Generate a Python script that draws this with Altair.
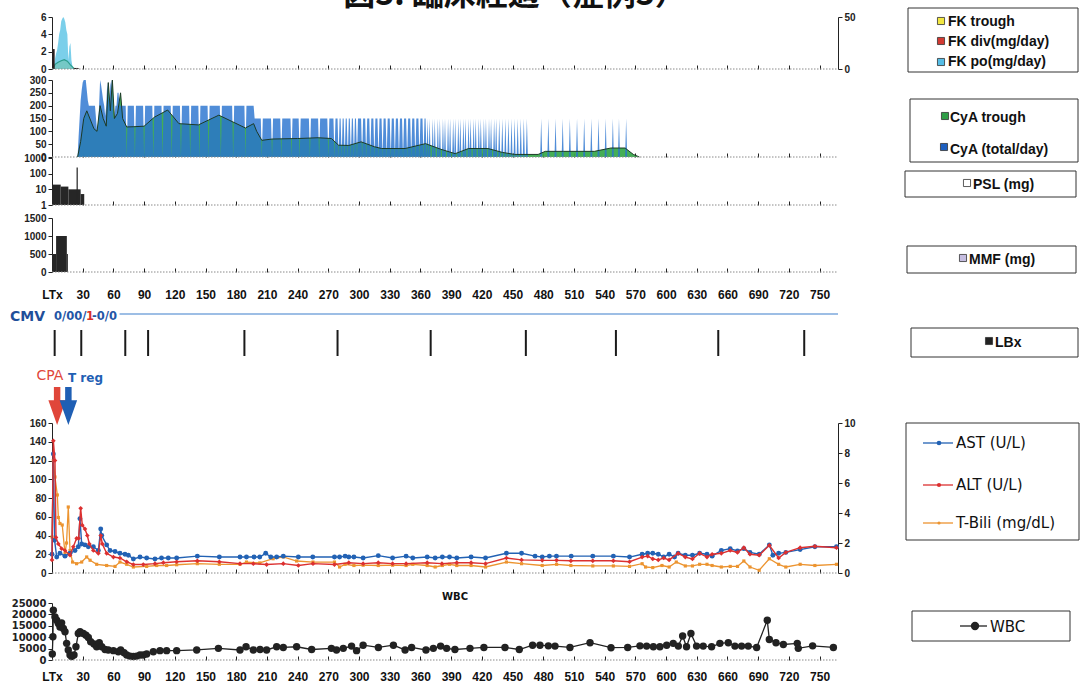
import altair as alt
import pandas as pd

W, H = 786, 690
XMAX = 768
X_TICKS = list(range(0, 751, 30))

# ---------------- data ----------------
# FK (tacrolimus)
fk_po_days = [1, 2, 3, 4, 5, 6, 7, 8, 9, 10, 11, 12, 13, 14, 15, 16, 17, 18, 19, 20, 21]
fk_po_vals = [0, 0.5, 1.2, 1.8, 2.2, 3.0, 4.0, 4.5, 5.5, 5.8, 6.0, 5.8, 5.4, 4.5, 4.0, 1.0, 2.6, 3.0, 1.0, 0.3, 0]
fk_trough_days = [1, 3, 6, 9, 12, 15, 18, 20, 22]
fk_trough_vals = [0, 4.5, 6.5, 8.0, 9.0, 7.5, 4.0, 2.0, 0]
fk_div_start = [0.8, 21]
fk_div_end = [2.6, 26]
fk_div_vals = [2.3, 0.12]

# CyA dose (mg/day)
cya_early_days = list(range(24, 70))
cya_early_vals = [0, 0, 80, 150, 220, 260, 290, 300, 300, 300,
                  260, 220, 200, 200, 200, 200, 200, 200, 200, 150,
                  100, 120, 200, 300, 280, 250, 220, 200, 160, 200,
                  290, 250, 200, 280, 300, 250, 150, 160, 200, 200,
                  250, 250, 200, 200, 200, 200]
cya_seg_start = [70, 198]
cya_seg_end = [197, 299]
cya_seg_dose = [200, 150]
cya_gap_days = [73, 81, 90, 99, 108, 117, 126, 135, 144, 153, 165, 177, 189,
                205, 215, 224, 234, 242, 252, 261, 270, 276, 280, 283, 286, 289, 292, 295, 298]
cya_late_days = [300, 301, 302, 304, 305, 306, 308, 309, 310, 312, 313, 314, 316, 317, 318, 320, 321,
                 322, 324, 325, 326, 328, 329, 330, 332, 333, 334, 336, 337, 338, 340, 341, 342, 344,
                 345, 346, 348, 349, 350, 352, 353, 354, 356, 357, 358, 360, 361, 362, 364, 365,
                 367, 369, 372, 374, 377, 379, 382, 384, 387, 389, 392, 394, 397, 399, 402, 404, 407,
                 409, 412, 414, 417, 419, 422, 424, 427, 429, 432, 434, 437, 440, 443, 446, 449, 452,
                 455, 458, 461, 464,
                 478, 485, 492, 499, 506, 513, 520, 527, 534, 541, 548, 554, 561]
cya_late_dose = 150
# CyA trough
cya_tr_days = [25, 28, 31, 34, 38, 41, 44, 47, 50, 53, 55, 57, 59, 61, 64, 67, 69, 73, 80, 90,
               100, 113, 124, 143, 163, 189, 197, 200, 205, 215, 240, 260, 273, 280, 290, 302,
               315, 322, 345, 365, 380, 394, 407, 426, 440, 452, 475, 482, 500, 530, 546, 560, 568, 574]
cya_tr_vals = [0, 60, 150, 180, 140, 110, 100, 200, 150, 120, 290, 180, 300, 150, 170, 250, 150, 117, 118, 120,
               155, 183, 130, 125, 163, 113, 130, 100, 65, 70, 72, 75, 72, 46, 45, 59,
               40, 33, 33, 52, 30, 13, 33, 33, 18, 10, 10, 22, 22, 22, 35, 35, 10, 0]

# PSL (mg), log axis
psl_start = [0, 8.5, 16, 28, 24]
psl_end = [8.5, 16, 28, 31.5, 25.2]
psl_vals = [20, 15, 10, 5, 250]

# MMF (mg)
mmf_start = [0, 4, 14.5]
mmf_end = [4, 14.5, 15.5]
mmf_vals = [500, 1000, 500]

# liver biopsy days
lbx_days = [2.6, 28.6, 71.6, 93.9, 188, 279, 370, 463, 551, 651, 735]
# arrows
cpa_day = 5
treg_day = 16

# AST / ALT (U/L), T-Bili (mg/dL)
ast_days = [0, 1.3, 2.5, 4.6, 7.8, 12.7, 17.6, 22.5, 25.7, 27.3, 29, 32.2, 35.5, 40.4, 45.3, 47.6, 48.6,
            53.4, 56.7, 61.6, 66.4, 71.3, 74.6, 79.5, 86, 92.5, 100.6, 107, 113.6, 121.8, 142, 163.5,
            183.7, 190, 197.4, 203, 208.8, 213.7, 219.5, 226, 240.7, 254.8, 276, 281, 286.4, 290, 295,
            304, 318.8, 332.8, 346, 352.5, 366.6, 374.4, 381.4, 388.4, 395.5, 409.5, 423.6, 444, 458.8,
            472, 479, 486, 492.9, 507.3, 528.4, 548.5, 564.3, 576.6, 582, 587, 592.4, 597.7, 603, 608.3,
            611.8, 618.8, 625.8, 632.8, 640, 645, 654, 662.7, 669.8, 676, 682, 691, 700.9, 704.4, 710,
            717, 731, 745.4, 766.5]
ast_vals = [20, 127, 35, 17, 21, 18, 21, 24, 28, 58, 31, 30, 28, 28, 24, 47, 40,
            30, 24, 23, 21, 20, 19, 15, 17, 16, 15, 16, 16, 16, 18, 17,
            17, 17, 17, 17, 21, 17, 17, 18, 17, 17, 17, 17, 18, 17, 17,
            16, 18.5, 16, 18, 16, 17, 16, 17, 17, 16, 17, 16, 21, 21,
            18, 17, 18, 18, 18, 18, 18, 17, 20, 21, 21, 20, 17, 20, 17,
            21, 19, 19, 21, 20, 18, 24, 26, 23.5, 26, 22, 20, 30, 19, 21,
            22, 25, 28, 28]
alt_days = [0, 1.3, 2.9, 3.9, 6.2, 9.4, 12.7, 17.6, 20.8, 24.1, 26, 28, 29.6, 32.2, 34.5, 36.5, 40.4,
            45.3, 47.6, 49.2, 53.4, 60, 66.4, 73, 79.5, 89.2, 100.6, 108.8, 121.8, 142, 163.5, 183.7,
            196.7, 209.7, 226, 240.7, 255, 276, 290, 304, 318.8, 332.8, 346, 366.6, 381, 395.5, 409.5,
            423.6, 444, 458.8, 479, 493, 507, 528.4, 548.5, 564.3, 576.6, 582, 587, 592.4, 597.7, 603,
            611.8, 618.8, 625.8, 632.8, 640, 645, 654, 662.7, 669.8, 676, 682, 691, 700.9, 710, 717,
            731, 745.4, 766.5]
alt_vals = [14, 141, 120, 38, 31, 26, 24, 19, 28, 37, 37, 69, 51, 47, 40, 31, 24,
            21, 40, 31, 21, 17, 16, 12, 9, 9, 10, 11, 12, 13, 12, 10,
            10, 9, 10, 8, 10, 9, 11, 10, 11, 10, 10, 11, 10, 11, 11,
            10, 16, 14, 13.5, 13.5, 13, 13, 13, 12, 17, 18, 15, 14, 16, 14,
            21, 17, 15, 21, 17, 20, 21, 24, 22, 27, 20, 19, 29.5, 16, 22,
            27, 28.5, 27]
bili_days = [0, 1.3, 2.9, 5.2, 6.2, 7.8, 10, 12.7, 14.2, 15.9, 17.6, 20.1, 24, 29, 33.9, 37.2, 43.7,
             53.4, 61.6, 66.4, 73, 79.5, 92.5, 102.3, 112, 121.8, 142, 163.5, 183.7, 190, 203, 216,
             226, 239, 255, 276, 281, 286.4, 295, 304, 318.8, 332.8, 346, 352.5, 366.6, 374.4, 381.4,
             388.4, 395.5, 409.5, 423.6, 444, 458.8, 479, 493, 507, 528.4, 548.5, 564.3, 576.6, 580,
             587, 596, 603, 610, 618.8, 625.8, 632.8, 640, 645, 654, 662.7, 669.8, 676, 682, 691,
             700.9, 710, 717, 731, 745.4, 766.5]
bili_vals = [2.4, 7.5, 6.4, 5.2, 3.7, 3.3, 3.2, 1.3, 2.0, 4.4, 1.5, 0.73, 0.62, 0.73, 1.07, 0.85, 0.58,
             0.5, 0.44, 0.73, 0.58, 0.4, 0.44, 0.5, 0.5, 0.55, 0.62, 0.58, 0.58, 0.73, 0.67, 0.95,
             1.07, 0.8, 0.73, 0.73, 0.4, 0.58, 0.5, 0.52, 0.5, 0.52, 0.5, 0.58, 0.5, 0.4, 0.5,
             0.58, 0.5, 0.5, 0.4, 0.73, 0.62, 0.5, 0.58, 0.5, 0.47, 0.47, 0.44, 0.62, 0.4,
             0.36, 0.5, 0.4, 0.73, 0.47, 0.47, 0.58, 0.58, 0.5, 0.4, 0.44, 0.44, 0.8, 0.4, 0.18,
             0.95, 0.58, 0.4, 0.58, 0.5, 0.58]

# WBC (/uL)
wbc_days = [0.3, 0.9, 1.3, 2.9, 4.6, 6.2, 7.8, 9.4, 11.1, 12.7, 14.3, 15.9, 17.6, 19.2, 21.5, 23.4,
            25.7, 27.4, 30.6, 33.2, 35.5, 37.8, 41, 43.6, 46.2, 48.6, 51.8, 55, 60, 64.8, 67.1, 70.4,
            73, 76.2, 79.5, 82.7, 86, 89.2, 92.5, 99, 105.5, 112, 121.8, 141.4, 162.6, 183.7, 189.6,
            196.7, 203.3, 209.7, 219.5, 226, 239, 253.7, 273, 278, 284.6, 292.7, 297.6, 304, 318.9,
            333.6, 345, 351.4, 365.4, 372.6, 379.7, 385.6, 393.7, 408.4, 422, 442.6, 456.6, 469.6,
            476.8, 485, 491.5, 506.1, 525.7, 546.2, 562.5, 574.5, 581, 587.6, 594, 600.6, 607, 612,
            616.2, 620, 624.3, 629.8, 636.3, 644.5, 652.6, 660.8, 667.3, 673.8, 680.3, 688.5, 698.9,
            700.9, 707.4, 714.6, 728.2, 729.2, 743.2, 763.5]
wbc_vals = [2600, 10200, 21800, 18900, 17400, 16000, 14500, 16300, 13800, 12400, 7300, 4400, 2200, 1500,
            2200, 5800, 11600, 12400, 11600, 10900, 9900, 8000, 7000, 5800, 7600, 5800, 4600, 4400, 4100,
            3600, 4400, 3200, 2200, 1700, 1500, 1700, 2200, 2200, 2600, 3600, 4100, 4100, 4100, 4400,
            5100, 4400, 5800, 4400, 4600, 4400, 5800, 5500, 5800, 4600, 5100, 4400, 5100, 6100, 4100,
            6500, 5500, 6500, 4400, 5500, 4400, 5100, 6100, 5100, 4600, 5100, 5500, 5500, 4600, 6500,
            6500, 6200, 6100, 5500, 7600, 5400, 5500, 6200, 6100, 5800, 5800, 6500, 7300, 6100, 10500,
            5800, 11600, 6100, 6100, 5800, 7300, 7600, 6100, 6100, 6100, 5500, 17400, 9000, 7600, 6800,
            7300, 5100, 6200, 5500]

# ---------------- helpers ----------------
one = pd.DataFrame({'a': [0]})

PANELS = {
    'fk': ([0, 6], [69, 17], 'linear'),
    'fkr': ([0, 50], [69, 17], 'linear'),
    'cya': ([0, 300], [157, 80], 'linear'),
    'psl': ([1, 1000], [205, 158], 'log'),
    'mmf': ([0, 1500], [272, 218], 'linear'),
    'ast': ([0, 160], [573, 423], 'linear'),
    'bili': ([0, 10], [573, 423], 'linear'),
    'wbc': ([0, 25000], [660, 603], 'linear'),
}

LABEL_FONT = 'Liberation Sans'


def xsc():
    return alt.Scale(domain=[0, XMAX], nice=False, zero=False)


def X(f):
    return alt.X(f, type='quantitative', scale=xsc(), axis=None)


def ysc(key):
    dom, rng, typ = PANELS[key]
    if typ == 'log':
        return alt.Scale(type='log', domain=dom, range=rng, nice=False)
    return alt.Scale(domain=dom, range=rng, nice=False, zero=False)


def Y(f, key, axis=None):
    return alt.Y(f, type='quantitative', scale=ysc(key), axis=axis)


def yaxis(values, orient='left', size=10, font=LABEL_FONT):
    return alt.Axis(orient=orient, values=values, format='d', domainColor='#222', domainWidth=1,
                    tickColor='#222', tickSize=4, tickWidth=1, labelFont=font, labelFontSize=size,
                    labelFontWeight='bold', labelColor='#222', labelPadding=2, labelFlush=False,
                    labelOverlap=False, labelBound=False, grid=False, title=None)


def xtick(bottom, labels=False, pad=0):
    return alt.Axis(orient='bottom', offset=bottom - 4 - H, values=X_TICKS, domain=False,
                    tickSize=4, tickColor='#222', tickWidth=1, labels=labels, labelPadding=pad,
                    labelFont=LABEL_FONT, labelFontSize=12, labelFontWeight='bold', labelColor='#111',
                    labelExpr="datum.value == 0 ? 'LTx' : datum.label", labelFlush=False,
                    labelOverlap=False, labelBound=False, grid=False, title=None)


def base(key, yval, ya, xa):
    return alt.Chart(one).mark_rule(color='#8a8a8a', strokeDash=[1.5, 1.5], strokeWidth=1).encode(
        x=alt.XDatum(0, type='quantitative', scale=xsc(), axis=xa),
        x2=alt.X2Datum(XMAX),
        y=alt.YDatum(yval, type='quantitative', scale=ysc(key), axis=ya))


def px(v):
    return alt.value(v)


L = []

# ---------------- FK panel ----------------
fk_tr_df = pd.DataFrame({'d': fk_trough_days, 'v': fk_trough_vals})
fk_po_df = pd.DataFrame({'d': fk_po_days, 'v': fk_po_vals})
fk_div_df = pd.DataFrame({'s': fk_div_start, 'e': fk_div_end, 'v': fk_div_vals})
L.append(alt.Chart(fk_tr_df).mark_area(color='#e2d94a', opacity=0.9).encode(
    x=X('d'), y=Y('v', 'fkr', yaxis([0, 50], orient='right')), y2=alt.Y2Datum(0)))
L.append(alt.Chart(fk_po_df).mark_area(color='#56c1e4', opacity=0.78).encode(
    x=X('d'), y=Y('v', 'fk'), y2=alt.Y2Datum(0)))
L.append(alt.Chart(fk_tr_df).mark_line(color='#2b9c8c', strokeWidth=1.2).encode(
    x=X('d'), y=Y('v', 'fkr')))
L.append(alt.Chart(fk_div_df).mark_rect(color='#2a1f1f').encode(
    x=X('s'), x2='e', y=Y('v', 'fk'), y2=alt.Y2Datum(0)))
L.append(base('fk', 0, yaxis([0, 2, 4, 6]), xtick(69)))

# ---------------- CyA panel ----------------
dose = {}
for d, v in zip(cya_early_days, cya_early_vals):
    dose[d] = v
for s, e, v in zip(cya_seg_start, cya_seg_end, cya_seg_dose):
    for d in range(s, e + 1):
        dose[d] = v
for d in cya_gap_days:
    dose[d] = 0
for d in range(300, 572):
    dose[d] = 0
for d in cya_late_days:
    dose[d] = cya_late_dose
dose_df = pd.DataFrame({'d': sorted(dose), 'v': [dose[k] for k in sorted(dose)]})
cya_tr_df = pd.DataFrame({'d': cya_tr_days, 'v': cya_tr_vals})
L.append(alt.Chart(cya_tr_df).mark_area(color='#3aaa4c', opacity=0.95).encode(
    x=X('d'), y=Y('v', 'cya'), y2=alt.Y2Datum(0)))
L.append(alt.Chart(dose_df).mark_area(color='#2a74d0', opacity=0.82, interpolate='linear').encode(
    x=X('d'), y=Y('v', 'cya'), y2=alt.Y2Datum(0)))
L.append(alt.Chart(cya_tr_df).mark_line(color='#1b3a26', strokeWidth=1).encode(
    x=X('d'), y=Y('v', 'cya')))
L.append(base('cya', 0, yaxis([0, 50, 100, 150, 200, 250, 300]), xtick(157)))

# ---------------- PSL panel ----------------
psl_df = pd.DataFrame({'s': psl_start, 'e': psl_end, 'v': psl_vals})
L.append(alt.Chart(psl_df).mark_rect(color='#262626').encode(
    x=X('s'), x2='e', y=Y('v', 'psl'), y2=alt.Y2Datum(1)))
L.append(base('psl', 1, yaxis([1, 10, 100, 1000]), xtick(205)))

# ---------------- MMF panel ----------------
mmf_df = pd.DataFrame({'s': mmf_start, 'e': mmf_end, 'v': mmf_vals})
L.append(alt.Chart(mmf_df).mark_rect(color='#262626').encode(
    x=X('s'), x2='e', y=Y('v', 'mmf'), y2=alt.Y2Datum(0)))
L.append(base('mmf', 0, yaxis([0, 500, 1000, 1500]), xtick(272, labels=True, pad=17)))

# ---------------- CMV / LBx / arrows ----------------
L.append(alt.Chart(one).mark_rule(color='#3d7fcc', strokeWidth=1.2).encode(
    x=alt.XDatum(66, type='quantitative', scale=xsc(), axis=None),
    x2=alt.X2Datum(XMAX), y=px(314)))
L.append(alt.Chart(one).mark_text(text='CMV', font='DejaVu Sans', fontSize=14, fontWeight='bold',
                                  color='#1f4f9a', align='left', baseline='middle').encode(
    x=px(-42), y=px(317)))
L.append(alt.Chart(one).mark_text(text='0/00/', font='DejaVu Sans', fontSize=11.5, fontWeight='bold',
                                  color='#2456a6', align='left', baseline='middle').encode(
    x=px(2), y=px(317)))
L.append(alt.Chart(one).mark_text(text='1', font='DejaVu Sans', fontSize=11.5, fontWeight='bold',
                                  color='#d8302a', align='left', baseline='middle').encode(
    x=px(34), y=px(317)))
L.append(alt.Chart(one).mark_text(text='-0/0', font='DejaVu Sans', fontSize=11.5, fontWeight='bold',
                                  color='#2456a6', align='left', baseline='middle').encode(
    x=px(40), y=px(317)))
lbx_df = pd.DataFrame({'d': lbx_days})
L.append(alt.Chart(lbx_df).mark_rule(color='#1a1a1a', strokeWidth=2).encode(
    x=X('d'), y=px(330), y2=px(356)))

ARROW = 'M-0.17,-1L0.17,-1L0.17,-0.3L0.46,-0.3L0,1L-0.46,-0.3L-0.17,-0.3Z'
L.append(alt.Chart(pd.DataFrame({'d': [cpa_day]})).mark_point(
    shape=ARROW, filled=True, size=1444, color='#e0463a', opacity=1).encode(x=X('d'), y=px(406)))
L.append(alt.Chart(pd.DataFrame({'d': [treg_day]})).mark_point(
    shape=ARROW, filled=True, size=1444, color='#1f5fb4', opacity=1).encode(x=X('d'), y=px(406)))
L.append(alt.Chart(one).mark_text(text='CPA', font='DejaVu Sans', fontSize=14, color='#e0463a',
                                  align='center', baseline='middle').encode(x=px(-2), y=px(376)))
L.append(alt.Chart(one).mark_text(text='T reg', font='DejaVu Sans', fontSize=12, fontWeight='bold',
                                  color='#1f5fb4', align='left', baseline='middle').encode(x=px(16), y=px(378)))

# ---------------- AST / ALT / T-Bili ----------------
ast_df = pd.DataFrame({'d': ast_days, 'v': ast_vals})
alt_df = pd.DataFrame({'d': alt_days, 'v': alt_vals})
bili_df = pd.DataFrame({'d': bili_days, 'v': bili_vals})
L.append(alt.Chart(bili_df).mark_line(color='#ec9430', strokeWidth=1.3).encode(
    x=X('d'), y=Y('v', 'bili', yaxis([0, 2, 4, 6, 8, 10], orient='right'))))
L.append(alt.Chart(bili_df).mark_point(color='#ec9430', filled=True, shape='square', size=10, opacity=1).encode(
    x=X('d'), y=Y('v', 'bili')))
L.append(alt.Chart(ast_df).mark_line(color='#2262b4', strokeWidth=1.4).encode(x=X('d'), y=Y('v', 'ast')))
L.append(alt.Chart(ast_df).mark_point(color='#2262b4', filled=True, shape='circle', size=24, opacity=1).encode(
    x=X('d'), y=Y('v', 'ast')))
L.append(alt.Chart(alt_df).mark_line(color='#dc3030', strokeWidth=1.4).encode(x=X('d'), y=Y('v', 'ast')))
L.append(alt.Chart(alt_df).mark_point(color='#dc3030', filled=True, shape='diamond', size=22, opacity=1).encode(
    x=X('d'), y=Y('v', 'ast')))
L.append(base('ast', 0, yaxis([0, 20, 40, 60, 80, 100, 120, 140, 160]), xtick(573)))

# ---------------- WBC ----------------
wbc_df = pd.DataFrame({'d': wbc_days, 'v': wbc_vals})
L.append(alt.Chart(wbc_df).mark_line(color='#222', strokeWidth=1.3).encode(x=X('d'), y=Y('v', 'wbc')))
L.append(alt.Chart(wbc_df).mark_point(color='#222', filled=True, shape='circle', size=55, opacity=1).encode(
    x=X('d'), y=Y('v', 'wbc')))
L.append(base('wbc', 0, yaxis([0, 5000, 10000, 15000, 20000, 25000], size=10, font='DejaVu Sans'),
              xtick(660, labels=True, pad=11)))
L.append(alt.Chart(one).mark_text(text='WBC', font='DejaVu Sans', fontSize=10, fontWeight='bold',
                                  color='#111', align='center', baseline='middle').encode(x=px(403), y=px(597)))

# ---------------- title (cut by the top edge) ----------------
L.append(alt.Chart(one).mark_text(text='図3. 臨床経過（症例3）', font='Noto Sans CJK JP', fontSize=32,
                                  fontWeight='bold', color='#111', align='center',
                                  baseline='alphabetic').encode(x=px(463), y=px(5)))

# ---------------- legends ----------------
box_df = pd.DataFrame({
    'x': [856, 858, 853, 855, 859, 854, 860],
    'x2': [1026, 1026, 1024, 1024, 1026, 1027, 1018],
    'y': [8, 99, 171, 246, 328, 423, 611],
    'y2': [72, 162, 197, 273, 357, 540, 641]})
L.append(alt.Chart(box_df).mark_rect(filled=False, color='#333', strokeWidth=1).encode(
    x=alt.X('x:Q', scale=None, axis=None), x2='x2:Q',
    y=alt.Y('y:Q', scale=None, axis=None), y2='y2:Q'))

sw_df = pd.DataFrame({
    'x': [889, 889, 889, 893, 892, 915, 911, 937],
    'y': [21, 41, 62, 116, 147, 183, 258, 341],
    'c': ['#f2e640', '#d23a32', '#55bde6', '#2f9e46', '#1d5fbf', '#ffffff', '#c5bde0', '#222222']})
L.append(alt.Chart(sw_df).mark_point(shape='square', filled=True, size=50, stroke='#333',
                                     strokeWidth=0.8, opacity=1).encode(
    x=alt.X('x:Q', scale=None, axis=None), y=alt.Y('y:Q', scale=None, axis=None),
    fill=alt.Fill('c:N', scale=None)))

lt_df = pd.DataFrame({
    'x': [896, 896, 896, 898, 898, 921, 917, 943],
    'y': [22, 42, 62, 118, 150, 185, 260, 343],
    't': ['FK trough', 'FK div(mg/day)', 'FK po(mg/day)', 'CyA trough', 'CyA (total/day)',
          'PSL (mg)', 'MMF (mg)', 'LBx']})
L.append(alt.Chart(lt_df).mark_text(font=LABEL_FONT, fontSize=14, fontWeight='bold', color='#111',
                                    align='left', baseline='middle').encode(
    x=alt.X('x:Q', scale=None, axis=None), y=alt.Y('y:Q', scale=None, axis=None), text='t:N'))

ll_df = pd.DataFrame({
    'x': [871, 871, 871, 908], 'x2': [901, 901, 901, 935], 'y': [443, 485, 523, 626],
    'c': ['#2262b4', '#dc3030', '#ec9430', '#222222']})
L.append(alt.Chart(ll_df).mark_rule(strokeWidth=1.3).encode(
    x=alt.X('x:Q', scale=None, axis=None), x2='x2:Q', y=alt.Y('y:Q', scale=None, axis=None),
    color=alt.Color('c:N', scale=None)))
lm_df = pd.DataFrame({'x': [887, 887, 887, 923], 'y': [443, 485, 523, 626],
                      'c': ['#2262b4', '#dc3030', '#ec9430', '#222222'], 's': [22, 18, 10, 70]})
L.append(alt.Chart(lm_df).mark_point(filled=True, shape='circle', opacity=1).encode(
    x=alt.X('x:Q', scale=None, axis=None), y=alt.Y('y:Q', scale=None, axis=None),
    color=alt.Color('c:N', scale=None), size=alt.Size('s:Q', scale=None)))
lt2_df = pd.DataFrame({'x': [904, 904, 904, 938], 'y': [443, 485, 523, 627],
                       't': ['AST (U/L)', 'ALT (U/L)', 'T-Bili (mg/dL)', 'WBC']})
L.append(alt.Chart(lt2_df).mark_text(font='DejaVu Sans', fontSize=15, color='#111',
                                     align='left', baseline='middle').encode(
    x=alt.X('x:Q', scale=None, axis=None), y=alt.Y('y:Q', scale=None, axis=None), text='t:N'))

chart = alt.layer(*L).resolve_scale(
    x='independent', y='independent', color='independent', fill='independent', size='independent'
).properties(
    width=W, height=H,
    autosize=alt.AutoSizeParams(type='none'),
    padding={'left': 52, 'top': 0, 'right': 242, 'bottom': 0},
    background='white'
).configure_view(stroke=None)

chart.save('out.html', embed_options={'renderer': 'svg', 'actions': False})
